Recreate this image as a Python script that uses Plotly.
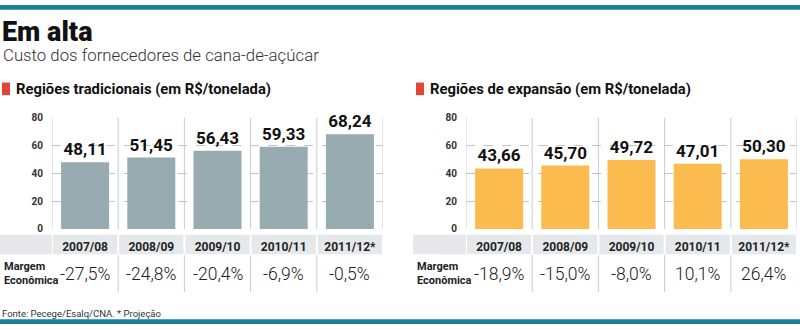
import plotly.graph_objects as go

# --- data -----------------------------------------------------------------
safras = ["2007/08", "2008/09", "2009/10", "2010/11", "2011/12*"]
custo_tradicionais = [48.11, 51.45, 56.43, 59.33, 68.24]
custo_expansao = [43.66, 45.70, 49.72, 47.01, 50.30]
margem_tradicionais = ["-27,5%", "-24,8%", "-20,4%", "-6,9%", "-0,5%"]
margem_expansao = ["-18,9%", "-15,0%", "-8,0%", "10,1%", "26,4%"]
y_ticks = [0, 20, 40, 60, 80]

W, H = 800, 329
FONT = "Roboto"
TEAL = "#17809a"
RED = "#e0473a"
BAND = "#e5e9eb"
SEP = "#c9cccd"


def px(x):
    return x / W


def py(y):
    return 1 - y / H


fig = go.Figure()

panels = [
    dict(x="x", y="y", vals=custo_tradicionais, color="#97abb1",
         margem=margem_tradicionais, dom=(52, 383), band_x0=0, lab_x=2,
         head_x=2, head="Regiões tradicionais (em R$/tonelada)"),
    dict(x="x2", y="y2", vals=custo_expansao, color="#fbbb4f",
         margem=margem_expansao, dom=(466, 797), band_x0=413, lab_x=415,
         head_x=416, head="Regiões de expansão (em R$/tonelada)"),
]

plot_top, plot_bot = 116.5, 231
shapes = []
annotations = []

for i, p in enumerate(panels):
    fig.add_trace(go.Bar(
        x=list(range(len(safras))), y=p["vals"], xaxis=p["x"], yaxis=p["y"],
        marker=dict(color=p["color"], line=dict(width=0)),
        texttemplate="%{y:.2f}", textposition="outside",
        textfont=dict(family=FONT, size=17, color="#111", weight="bold"),
        cliponaxis=False, hoverinfo="skip", showlegend=False,
    ))
    sfx = "" if i == 0 else "2"
    fig.update_layout({
        f"xaxis{sfx}": dict(
            domain=[px(p["dom"][0]), px(p["dom"][1])], range=[-0.5, 4.5],
            tickvals=list(range(len(safras))),
            ticktext=[f"<b>{s}</b>" for s in safras],
            tickfont=dict(family=FONT, size=12, color="#222"),
            ticks="", showgrid=False, zeroline=False, showline=False,
            ticklabelstandoff=9, fixedrange=True,
        ),
        f"yaxis{sfx}": dict(
            domain=[py(plot_bot), py(plot_top)], range=[0, 80],
            tickvals=y_ticks,
            ticktext=[f"<b>{v}</b>" for v in y_ticks],
            tickfont=dict(family=FONT, size=10, color="#333"),
            ticks="", showgrid=True, gridcolor="#c4c4c4", griddash="dash",
            gridwidth=1, zeroline=False, showline=False,
            ticklabelstandoff=8, anchor="x" + sfx if sfx else "x",
            fixedrange=True,
        ),
    })
    xref = p["x"]
    # label band behind the season names
    shapes.append(dict(type="rect", xref="paper", yref="paper",
                       x0=px(p["band_x0"]), x1=px(p["dom"][1]),
                       y0=py(257), y1=py(237), fillcolor=BAND,
                       line=dict(width=0), layer="below"))
    for k in range(len(safras) + 1):
        xv = k - 0.5
        # column separators inside the plot
        shapes.append(dict(type="line", xref=xref, yref="paper",
                           x0=xv, x1=xv, y0=py(plot_bot), y1=py(plot_top),
                           line=dict(color=SEP, width=1), layer="below"))
        # white gaps in the band
        shapes.append(dict(type="line", xref=xref, yref="paper",
                           x0=xv, x1=xv, y0=py(257), y1=py(237),
                           line=dict(color="white", width=2), layer="below"))
        if 0 < k < len(safras):
            shapes.append(dict(type="line", xref=xref, yref="paper",
                               x0=xv, x1=xv, y0=py(296), y1=py(258),
                               line=dict(color=SEP, width=1), layer="below"))
    # margin values
    for k, m in enumerate(p["margem"]):
        annotations.append(dict(
            x=k, y=py(277), xref=xref, yref="paper", text=m,
            showarrow=False, xanchor="center", yanchor="middle",
            font=dict(family=FONT, size=17.5, color="#222", weight=300)))
    annotations.append(dict(
        x=px(p["lab_x"]), y=py(277), xref="paper", yref="paper",
        text="<b>Margem</b><br><b>Econômica</b>", align="left",
        showarrow=False, xanchor="left", yanchor="middle",
        font=dict(family=FONT, size=11, color="#222")))
    # section header with red marker
    shapes.append(dict(type="rect", xref="paper", yref="paper",
                       x0=px(p["head_x"]), x1=px(p["head_x"] + 8),
                       y0=py(93), y1=py(80), fillcolor=RED,
                       line=dict(width=0)))
    annotations.append(dict(
        x=px(p["head_x"] + 12), y=py(86.5), xref="paper", yref="paper",
        text=f"<b>{p['head']}</b>", showarrow=False,
        xanchor="left", yanchor="middle",
        font=dict(family=FONT, size=14.8, color="#111")))

# top and bottom rules
shapes.append(dict(type="rect", xref="paper", yref="paper", x0=0, x1=1,
                   y0=py(5), y1=1, fillcolor=TEAL, line=dict(width=0)))
shapes.append(dict(type="rect", xref="paper", yref="paper", x0=0, x1=1,
                   y0=0, y1=py(324), fillcolor=TEAL, line=dict(width=0)))

annotations += [
    dict(x=px(0), y=py(28), xref="paper", yref="paper", text="Em alta",
         showarrow=False, xanchor="left", yanchor="middle",
         font=dict(family=FONT, size=27, color="#111", weight=900)),
    dict(x=px(1), y=py(52), xref="paper", yref="paper",
         text="Custo dos fornecedores de cana-de-açúcar",
         showarrow=False, xanchor="left", yanchor="middle",
         font=dict(family=FONT, size=16.8, color="#333", weight=300)),
    dict(x=px(0), y=py(318), xref="paper", yref="paper",
         text="Fonte: Pecege/Esalq/CNA. * Projeção",
         showarrow=False, xanchor="left", yanchor="middle",
         font=dict(family=FONT, size=9.5, color="#333")),
]

fig.update_layout(
    width=W, height=H, margin=dict(l=0, r=0, t=0, b=0),
    paper_bgcolor="white", plot_bgcolor="white",
    separators=",.", bargap=0.275,
    shapes=shapes, annotations=annotations,
)

fig.write_html("out.html", config={"displayModeBar": False})
